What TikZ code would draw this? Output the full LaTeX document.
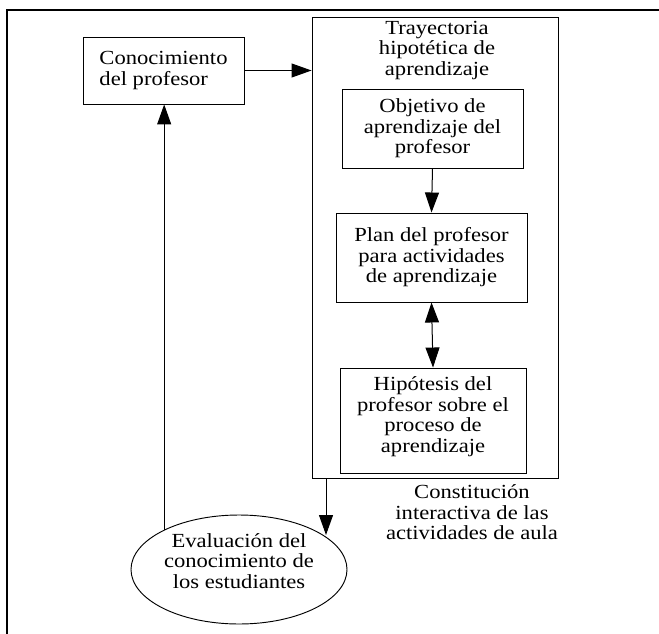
\documentclass[tikz,border=0pt]{standalone}
\usepackage{fontspec}
\setmainfont{Liberation Serif}[FakeStretch=1.13]
\usetikzlibrary{arrows.meta,shapes.geometric}
\begin{document}
\begin{tikzpicture}[x=0.75pt,y=-0.75pt,
  txt/.style={font=\fontsize{15}{15.4}\selectfont, align=center, inner sep=0pt},
  box/.style={txt, draw, line width=0.7pt},
  arr/.style={-{Triangle[length=15pt,width=10.5pt]}, line width=0.75pt},
  dblarr/.style={{Triangle[length=15pt,width=10.5pt]}-{Triangle[length=15pt,width=10.5pt]}, line width=0.75pt}]
\useasboundingbox (0,0) rectangle (659,634);

% page frame (top and left edges)
\draw[line width=1.5pt] (7,634) -- (7,10) -- (659,10);

% teacher's knowledge
\node[box, align=left, minimum width=120.75pt, minimum height=50.25pt] (conoc) at (163.5,70.5)
  {Conocimiento\\del profesor};

% hypothetical learning trajectory container
\node[box, minimum width=184.5pt, minimum height=345.75pt] (tray) at (435,247.5) {};
\node[txt] (title) at (437,50.3) {Trayectoria\\hipotética de\\aprendizaje};

\node[box, minimum width=135.75pt, minimum height=59.25pt] (obj) at (432.5,128.5)
  {Objetivo de\\aprendizaje del\\profesor};
\node[box, minimum width=143.25pt, minimum height=66.75pt] (plan) at (431.5,257.5)
  {Plan del profesor\\para actividades\\de aprendizaje};
\node[box, minimum width=139.5pt, minimum height=78.75pt] (hip) at (433,420.5)
  {Hipótesis del\\profesor sobre el\\proceso de\\aprendizaje\rule[-8.8pt]{0pt}{0pt}};

% assessment of students' knowledge
\node[txt, draw, line width=0.7pt, ellipse, minimum width=162pt, minimum height=81.75pt] (eval) at (239,569.5)
  {Evaluación del\\conocimiento de\\los estudiantes\rule[-12.75pt]{0pt}{0pt}};

\node[txt] (const) at (472,512.2) {Constitución\\interactiva de las\\actividades de aula};

% connectors
\coordinate (drop) at (326,535);
\draw[arr] (conoc.east) -- (conoc.east -| tray.west);
\draw[arr] (obj.south) -- (plan.north);
\draw[dblarr] (plan.south) -- (hip.north);
\draw[arr] (drop |- tray.south) -- (drop);
\draw[arr] (eval.152) -- (eval.152 |- conoc.south);
\end{tikzpicture}
\end{document}
